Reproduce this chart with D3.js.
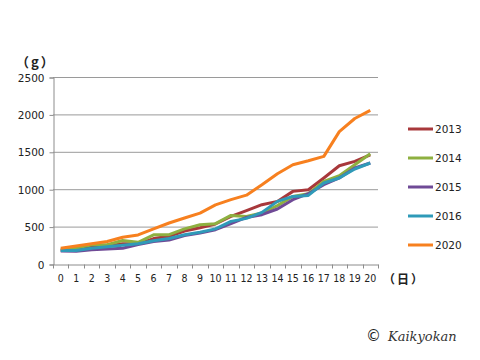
<!DOCTYPE html>
<html>
<head>
<meta charset="utf-8">
<script src="https://cdn.jsdelivr.net/npm/d3@7"></script>
<style>
  body { margin: 0; background: #fff; }
  svg { display: block; font-family: 'Noto Sans CJK JP', 'DejaVu Sans', sans-serif; }
</style>
</head>
<body>
<svg width="480" height="360"></svg>
<script>
const days = d3.range(0, 21);
const yTicks = [0, 500, 1000, 1500, 2000, 2500];
const seriesNames = ['2013', '2014', '2015', '2016', '2020'];

const s2013 = [185, 190, 230, 240, 270, 270, 340, 370, 440, 485, 535, 637, 713, 793, 837, 971, 993, 1150, 1314, 1372, 1460];
const s2014 = [195, 214, 258, 258, 315, 290, 390, 392, 470, 525, 539, 650, 636, 682, 780, 904, 940, 1105, 1180, 1327, 1475];
const s2015 = [175, 170, 190, 200, 210, 260, 300, 320, 380, 414, 459, 539, 623, 659, 735, 860, 940, 1060, 1150, 1283, 1350];
const s2016 = [180, 180, 210, 230, 250, 270, 310, 340, 390, 425, 470, 570, 610, 690, 837, 904, 917, 1083, 1150, 1270, 1350];
const s2020 = [210, 240, 272, 300, 358, 388, 470, 548, 615, 680, 790, 860, 920, 1060, 1207, 1327, 1380, 1439, 1770, 1945, 2054];

const colors = ['#A8383B', '#8EB040', '#6F4A96', '#2F9AB8', '#F7801F'];
const allSeries = [s2013, s2014, s2015, s2016, s2020];

const svg = d3.select('svg');
const plot = { left: 53, right: 378, top: 77, bottom: 264 };

const x = d3.scaleBand().domain(days).range([plot.left, plot.right]);
const y = d3.scaleLinear().domain([0, 2500]).range([plot.bottom, plot.top]);

// grid
svg.append('g')
  .selectAll('line')
  .data(yTicks.slice(1))
  .enter()
  .append('line')
  .attr('x1', plot.left)
  .attr('x2', plot.right)
  .attr('y1', d => y(d) + 0.5)
  .attr('y2', d => y(d) + 0.5)
  .attr('stroke', '#9a9a9a')
  .attr('stroke-width', 1);

// y axis
const yAxis = d3.axisLeft(y).tickValues(yTicks).tickFormat(d3.format('d')).tickSize(4).tickPadding(5);
const gy = svg.append('g')
  .attr('transform', `translate(${plot.left + 0.5},0.5)`)
  .call(yAxis);
gy.select('.domain').attr('stroke', '#8c8c8c');
gy.selectAll('.tick line').attr('stroke', '#8c8c8c');
gy.selectAll('.tick text').attr('font-size', 10.5).attr('fill', '#222')
  .attr('font-family', "'DejaVu Sans', sans-serif").attr('dy', '0.35em');

// x axis
const xAxis = d3.axisBottom(x).tickSize(0).tickPadding(10);
const gx = svg.append('g')
  .attr('transform', `translate(0,${plot.bottom + 0.5})`)
  .call(xAxis);
gx.select('.domain').attr('stroke', '#8c8c8c');
gx.selectAll('.tick text').attr('font-size', 10.5).attr('fill', '#222')
  .attr('font-family', "'DejaVu Sans Condensed', 'DejaVu Sans', sans-serif");
// boundary ticks
gx.append('g')
  .selectAll('line')
  .data(d3.range(0, 22))
  .enter()
  .append('line')
  .attr('x1', i => Math.round(plot.left + i * x.step()) + 0.5)
  .attr('x2', i => Math.round(plot.left + i * x.step()) + 0.5)
  .attr('y1', 0)
  .attr('y2', 4)
  .attr('stroke', '#8c8c8c');

// lines
const line = d3.line()
  .x((d, i) => x(days[i]) + x.bandwidth() / 2)
  .y(d => y(d));

svg.append('g')
  .selectAll('path')
  .data(allSeries)
  .enter()
  .append('path')
  .attr('d', line)
  .attr('fill', 'none')
  .attr('stroke', (d, i) => colors[i])
  .attr('stroke-width', 3)
  .attr('stroke-linejoin', 'round');

// legend
const legend = svg.append('g').attr('transform', 'translate(408,129)');
seriesNames.forEach((name, i) => {
  const row = legend.append('g').attr('transform', `translate(0,${i * 29})`);
  row.append('line')
    .attr('x1', 0).attr('x2', 25)
    .attr('stroke', colors[i]).attr('stroke-width', 3);
  row.append('text')
    .text(name)
    .attr('x', 27)
    .attr('dy', '0.35em')
    .attr('font-size', 10.5)
    .attr('font-family', "'DejaVu Sans', sans-serif")
    .attr('fill', '#222');
});

// unit labels
svg.append('text')
  .text('（g）')
  .attr('x', 16)
  .attr('y', 67)
  .attr('font-size', 13)
  .attr('font-weight', 'bold')
  .attr('letter-spacing', 2)
  .attr('font-family', "'Noto Sans CJK JP', sans-serif")
  .attr('fill', '#222');

svg.append('text')
  .text('（日）')
  .attr('x', 383)
  .attr('y', 284)
  .attr('font-size', 12)
  .attr('font-weight', 'bold')
  .attr('letter-spacing', 2)
  .attr('font-family', "'Noto Sans CJK JP', sans-serif")
  .attr('fill', '#222');

// watermark
svg.append('text')
  .text('©')
  .attr('x', 366)
  .attr('y', 341)
  .attr('font-size', 15)
  .attr('font-family', "'DejaVu Sans', sans-serif")
  .attr('fill', '#222');
svg.append('text')
  .text('Kaikyokan')
  .attr('x', 388)
  .attr('y', 341)
  .attr('font-size', 13)
  .attr('font-style', 'italic')
  .attr('font-family', "'DejaVu Serif', serif")
  .attr('fill', '#333');
</script>
</body>
</html>
